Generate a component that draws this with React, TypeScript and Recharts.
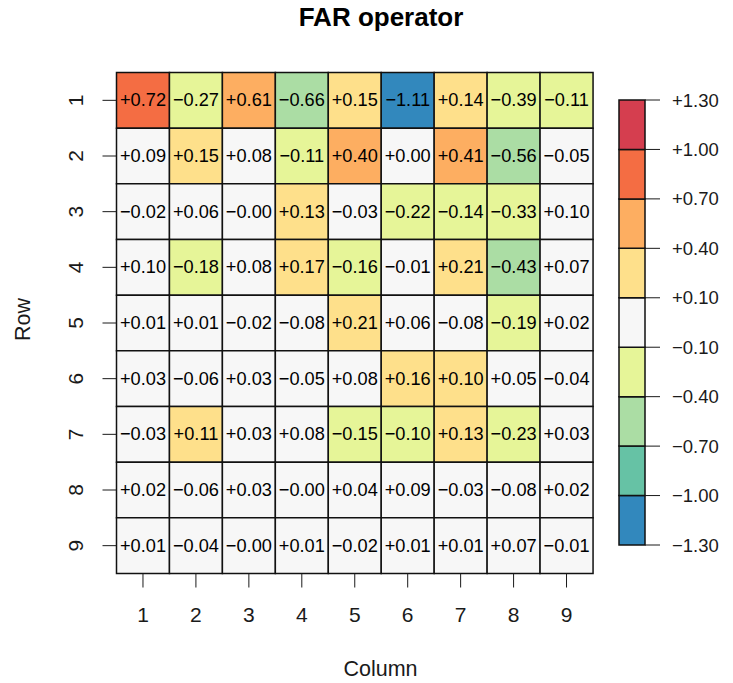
import { Bar, BarChart, Cell, LabelList, XAxis, YAxis } from 'recharts'

const colLabels = ['1', '2', '3', '4', '5', '6', '7', '8', '9']
const rowLabels = ['1', '2', '3', '4', '5', '6', '7', '8', '9']

const row1 = [0.72, -0.27, 0.61, -0.66, 0.15, -1.11, 0.14, -0.39, -0.11]
const row2 = [0.09, 0.15, 0.08, -0.11, 0.402, 0, 0.41, -0.56, -0.05]
const row3 = [-0.02, 0.06, -0.001, 0.13, -0.03, -0.22, -0.14, -0.33, 0.098]
const row4 = [0.097, -0.18, 0.08, 0.17, -0.16, -0.01, 0.21, -0.43, 0.07]
const row5 = [0.01, 0.01, -0.02, -0.08, 0.21, 0.06, -0.08, -0.19, 0.02]
const row6 = [0.03, -0.06, 0.03, -0.05, 0.08, 0.16, 0.102, 0.05, -0.04]
const row7 = [-0.03, 0.11, 0.03, 0.08, -0.15, -0.102, 0.13, -0.23, 0.03]
const row8 = [0.02, -0.06, 0.03, -0.001, 0.04, 0.09, -0.03, -0.08, 0.02]
const row9 = [0.01, -0.04, -0.001, 0.01, -0.02, 0.01, 0.01, 0.07, -0.01]
const rows = [row1, row2, row3, row4, row5, row6, row7, row8, row9]

const breaks = [-1.3, -1.0, -0.7, -0.4, -0.1, 0.1, 0.4, 0.7, 1.0, 1.3]
const palette = ['#3288BD', '#66C2A5', '#ABDDA4', '#E6F598', '#F7F7F7', '#FEE08B', '#FDAE61', '#F46D43', '#D53E4F']

const FONT = '"Liberation Sans", Arial, Helvetica, sans-serif'
const INK = '#1a1a1a'

function fmt(v: number): string {
  const s = Math.abs(v).toFixed(2)
  return (v < 0 || Object.is(v, -0) ? '\u2212' : '+') + s
}

function colorFor(v: number): string {
  for (let i = 0; i < palette.length; i++) {
    if (v >= breaks[i] && v < breaks[i + 1]) return palette[i]
  }
  return v < breaks[0] ? palette[0] : palette[palette.length - 1]
}

// one column per category, each row stacked as a unit block
const gridData = colLabels.map(col => {
  const d: Record<string, string | number> = { col }
  rowLabels.forEach((_, i) => { d[`r${i}`] = 1 })
  return d
})

const legendData = [{ name: 'key', ...Object.fromEntries(palette.map((_, i) => [`s${i}`, 1])) }]

function RowTick(props: any) {
  const { x, y, payload } = props
  return (
    <text
      transform={`translate(${x - 19.5},${y}) rotate(-90)`}
      textAnchor="middle"
      fontSize={21}
      fontFamily={FONT}
      fill={INK}
    >
      {rowLabels[Math.floor(payload.value)]}
    </text>
  )
}

export default function App() {
  return (
    <div style={{ position: 'absolute', left: 0, top: 0, width: 733, height: 683, background: '#fff', fontFamily: FONT }}>
      <div style={{ position: 'absolute', left: 0, top: 0 }}>
        <BarChart
          width={733}
          height={683}
          data={gridData}
          margin={{ top: 72.5, right: 140, bottom: 0, left: 0 }}
          barCategoryGap={0}
          barGap={0}
        >
          <XAxis
            dataKey="col"
            height={109.5}
            axisLine={false}
            tickLine={{ stroke: INK }}
            tickSize={14}
            tickMargin={20}
            interval={0}
            tick={{ fontSize: 21, fill: INK, fontFamily: FONT }}
          />
          <YAxis
            type="number"
            domain={[0, 9]}
            ticks={[0.5, 1.5, 2.5, 3.5, 4.5, 5.5, 6.5, 7.5, 8.5]}
            reversed
            width={116.5}
            axisLine={false}
            tickLine={{ stroke: INK }}
            tickSize={14}
            tickMargin={0}
            interval={0}
            tick={<RowTick />}
          />
          {rows.map((r, i) => (
            <Bar key={i} dataKey={`r${i}`} stackId="grid" isAnimationActive={false} stroke="#111" strokeWidth={1.5}>
              {r.map((v, j) => (
                <Cell key={j} fill={colorFor(v)} />
              ))}
              <LabelList
                dataKey={`r${i}`}
                content={(p: any) => (
                  <text
                    x={p.x + p.width / 2}
                    y={p.y + p.height / 2}
                    textAnchor="middle"
                    dominantBaseline="central"
                    fontSize={18.2}
                    fontFamily={FONT}
                    fill="#000"
                  >
                    {fmt(r[p.index])}
                  </text>
                )}
              />
            </Bar>
          ))}
        </BarChart>
      </div>

      <div style={{ position: 'absolute', left: 0, top: 0 }}>
        <BarChart
          width={733}
          height={683}
          data={legendData}
          margin={{ top: 100, right: 0, bottom: 138, left: 619 }}
          barCategoryGap={0}
        >
          <XAxis dataKey="name" hide />
          <YAxis
            orientation="right"
            type="number"
            domain={[0, 9]}
            ticks={breaks.map((_, i) => i)}
            width={88}
            axisLine={false}
            tickLine={{ stroke: INK }}
            tickSize={15}
            tickMargin={12}
            interval={0}
            tickFormatter={(i: number) => fmt(breaks[i])}
            tick={{ fontSize: 18.5, fill: INK, fontFamily: FONT }}
          />
          {palette.map((c, i) => (
            <Bar key={i} dataKey={`s${i}`} stackId="key" fill={c} stroke="#111" strokeWidth={1.5} isAnimationActive={false} />
          ))}
        </BarChart>
      </div>

      <svg width={733} height={683} style={{ position: 'absolute', left: 0, top: 0, pointerEvents: 'none' }}>
        <text x={381} y={25.5} textAnchor="middle" fontSize={26} fontWeight="bold" fontFamily={FONT} fill="#000">
          FAR operator
        </text>
        <text x={380.5} y={676} textAnchor="middle" fontSize={21.5} fontFamily={FONT} fill={INK}>
          Column
        </text>
        <text transform="translate(30,319.5) rotate(-90)" textAnchor="middle" fontSize={21.5} fontFamily={FONT} fill={INK}>
          Row
        </text>
      </svg>
    </div>
  )
}
